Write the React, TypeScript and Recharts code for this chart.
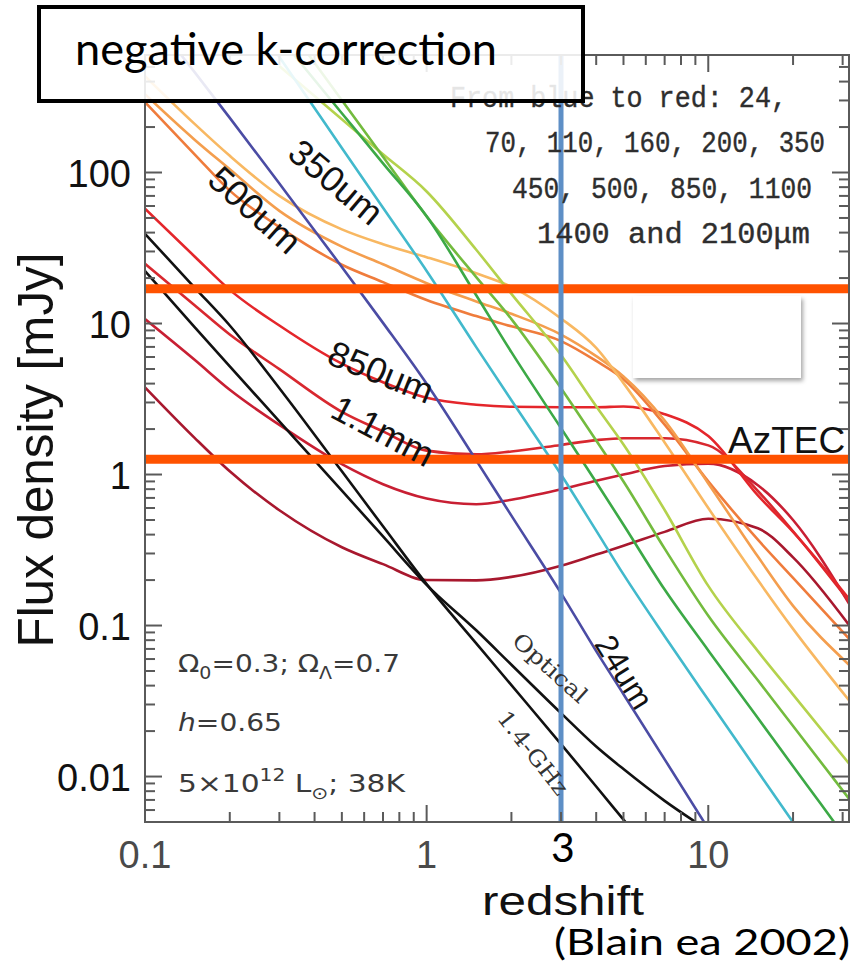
import React from 'react';
import { LineChart, Line, XAxis, YAxis, ReferenceLine } from 'recharts';

// plot frame in page pixels
const W = 865;
const H = 971;
const PLOT = { left: 145, top: 55, right: 849, bottom: 822 };
const FRAME = '#5a5a5a';
const X_AXIS_H = 40;
const Y_AXIS_W = 60;

// redshift grid shared by most curves
const zGrid = [0.1, 0.15, 0.2, 0.3, 0.5, 0.7, 1, 1.5, 2, 3, 4, 5, 7, 10, 15, 20, 31.6];
const zFrom03 = [0.3, 0.5, 0.7, 1, 1.5, 2, 3, 4, 5, 7, 10, 15, 20, 31.6];

// flux density [mJy] per band
const z24 = [0.1, 0.15, 0.2, 0.3, 0.5, 0.7, 1, 1.5, 2, 3, 4, 5, 7, 10];
const s24 = [1200, 462, 230, 84.5, 23.7, 10.1, 3.99, 1.24, 0.534, 0.164, 0.0677, 0.0351, 0.013, 0.00451];

const z70 = [0.2, 0.3, 0.5, 0.7, 1, 1.5, 2, 3, 4, 5, 7, 10, 15, 20, 25];
const s70 = [1700, 581, 145.5, 58.5, 22.3, 6.98, 3.1, 1.0, 0.425, 0.218, 0.085, 0.0322, 0.0108, 0.00498, 0.00274];

const z110 = [0.3, 0.5, 0.7, 1, 1.5, 2, 3, 4, 5, 7, 10, 15, 20, 25, 31.6];
const s110 = [789, 247, 115, 51.3, 15.4, 6.46, 2.03, 0.89, 0.465, 0.173, 0.0684, 0.0244, 0.0117, 0.00665, 0.00366];

const s160 = [1110, 301, 127, 51.2, 20.3, 10.7, 3.73, 1.68, 0.899, 0.323, 0.116, 0.0434, 0.0216, 0.00714];
const s200 = [506, 225, 132, 74.9, 30.8, 15.7, 6.18, 2.83, 1.58, 0.582, 0.183, 0.0677, 0.0349, 0.0122];

const s350 = [435, 210, 129, 70, 42, 33.5, 27.5, 21.5, 17.5, 10.8, 6.9, 4.03, 1.63, 0.6, 0.2, 0.095, 0.032];
const s450 = [330, 165, 105, 55.7, 32.3, 24.7, 18.5, 14.0, 11.6, 8.45, 6.08, 4.46, 2.28, 0.873, 0.286, 0.135, 0.055];
const s500 = [292, 132, 75.9, 43.5, 24.5, 18.8, 14.3, 11.2, 9.58, 7.65, 5.65, 4.28, 2.14, 0.9, 0.37, 0.207, 0.0818];
const s850 = [57.6, 27.8, 16.7, 9.7, 5.42, 4.08, 3.22, 2.9, 2.81, 2.79, 2.79, 2.82, 2.51, 1.8, 0.727, 0.417, 0.15];
const s1100 = [24.9, 13.2, 8.45, 4.99, 2.6, 1.93, 1.44, 1.36, 1.42, 1.57, 1.69, 1.74, 1.74, 1.56, 0.778, 0.421, 0.145];
const s1400 = [10.7, 5.75, 3.64, 2.13, 1.17, 0.862, 0.693, 0.636, 0.681, 0.798, 0.91, 1.0, 1.14, 1.18, 0.85, 0.5, 0.14];
const s2100 = [3.78, 1.75, 1.05, 0.58, 0.33, 0.255, 0.2, 0.199, 0.21, 0.249, 0.295, 0.337, 0.417, 0.51, 0.441, 0.283, 0.101];

const zOpt = [0.1, 0.15, 0.2, 0.3, 0.5, 0.7, 1, 1.5, 2, 3, 4, 5, 7, 10];
const sOpt = [22.3, 9.48, 5.2, 2.25, 0.783, 0.389, 0.186, 0.093, 0.055, 0.0263, 0.0158, 0.0112, 0.0069, 0.0044];
const zRadio = [0.1, 0.15, 0.2, 0.3, 0.5, 0.7, 1, 1.5, 2, 3, 4, 5, 6];
const sRadio = [39.3, 17.3, 9.7, 3.73, 1.05, 0.454, 0.188, 0.0762, 0.0403, 0.0164, 0.00859, 0.00518, 0.00343];

// survey limits and marked redshift
const limitUpper = 17;
const limitAztec = 1.26;
const zMark = 3;

const xTicks = [0.1, 0.2, 0.3, 0.4, 0.5, 0.6, 0.7, 0.8, 0.9, 1, 2, 3, 4, 5, 6, 7, 8, 9, 10, 20, 30];
const xMajor = [0.1, 1, 10];
const yTicks = [
  0.006, 0.007, 0.008, 0.009, 0.01, 0.02, 0.03, 0.04, 0.05, 0.06, 0.07, 0.08, 0.09,
  0.1, 0.2, 0.3, 0.4, 0.5, 0.6, 0.7, 0.8, 0.9, 1, 2, 3, 4, 5, 6, 7, 8, 9,
  10, 20, 30, 40, 50, 60, 70, 80, 90, 100, 200, 300, 400, 500,
];
const yMajor = [0.01, 0.1, 1, 10, 100];

const zip = (z: number[], s: number[]) => z.map((v, i) => ({ z: v, S: s[i] }));

const series = [
  { key: 'r2100', color: '#a8182e', data: zip(zGrid, s2100) },
  { key: 'r1400', color: '#c81f33', data: zip(zGrid, s1400) },
  { key: 'r1100', color: '#d8282f', data: zip(zGrid, s1100) },
  { key: 'r850', color: '#e4262b', data: zip(zGrid, s850) },
  { key: 'o500', color: '#ef7c3c', data: zip(zGrid, s500) },
  { key: 'o450', color: '#f49e4e', data: zip(zGrid, s450) },
  { key: 'o350', color: '#f8b862', data: zip(zGrid, s350) },
  { key: 'g200', color: '#b4d24c', data: zip(zFrom03, s200) },
  { key: 'g160', color: '#73bb3e', data: zip(zFrom03, s160) },
  { key: 'g110', color: '#3ca946', data: zip(z110, s110) },
  { key: 'c70', color: '#42b9cc', data: zip(z70, s70) },
  { key: 'b24', color: '#4b4ca4', data: zip(z24, s24) },
  { key: 'opt', color: '#111111', data: zip(zOpt, sOpt) },
  { key: 'radio', color: '#111111', data: zip(zRadio, sRadio) },
];

// inward ticks on bottom and top edges, labels only on decades
const XTick = (props: any) => {
  const { x, payload } = props;
  const v = payload.value;
  const major = xMajor.includes(v);
  const len = major ? 17 : 10;
  return (
    <g>
      <line x1={x} x2={x} y1={PLOT.bottom} y2={PLOT.bottom - len} stroke={FRAME} strokeWidth={2} />
      <line x1={x} x2={x} y1={PLOT.top} y2={PLOT.top + len} stroke={FRAME} strokeWidth={2} />
      {major && (
        <text x={x} y={868} textAnchor="middle" fontFamily="Liberation Sans, Arial" fontSize={38} fill="#4a4a4a">
          {String(v)}
        </text>
      )}
    </g>
  );
};

// inward ticks on left and right edges
const YTick = (props: any) => {
  const { y, payload } = props;
  const v = payload.value;
  const major = yMajor.includes(v);
  const len = major ? 17 : 10;
  return (
    <g>
      <line x1={PLOT.left} x2={PLOT.left + len} y1={y} y2={y} stroke={FRAME} strokeWidth={2} />
      <line x1={PLOT.right} x2={PLOT.right - len} y1={y} y2={y} stroke={FRAME} strokeWidth={2} />
      {major && (
        <text x={131} y={y + 14} textAnchor="end" fontFamily="Liberation Sans, Arial" fontSize={38} fill="#111">
          {String(v)}
        </text>
      )}
    </g>
  );
};

const curveLabel = { fontFamily: 'Liberation Sans, Arial', fill: '#111' } as const;
const hershey = { fontFamily: 'DejaVu Sans', fill: '#3a3a3a', lengthAdjust: 'spacingAndGlyphs' } as const;
const mono = { fontFamily: 'Liberation Mono', fill: '#2e2e2e', stroke: '#2e2e2e', strokeWidth: 0.4 } as const;

export default function App() {
  return (
    <div style={{ position: 'absolute', left: 0, top: 0, width: W, height: H, background: '#fff' }}>
      <LineChart
        width={W}
        height={H}
        margin={{
          left: PLOT.left - Y_AXIS_W,
          top: PLOT.top,
          right: W - PLOT.right,
          bottom: H - PLOT.bottom - X_AXIS_H,
        }}
      >
        <XAxis
          type="number"
          dataKey="z"
          scale="log"
          domain={[0.1, 31.6]}
          allowDataOverflow
          ticks={xTicks}
          interval={0}
          tick={XTick}
          tickLine={false}
          axisLine={false}
          height={X_AXIS_H}
        />
        <YAxis
          type="number"
          dataKey="S"
          scale="log"
          domain={[0.005, 600]}
          allowDataOverflow
          ticks={yTicks}
          interval={0}
          tick={YTick}
          tickLine={false}
          axisLine={false}
          width={Y_AXIS_W}
        />
        {series.map((s) => (
          <Line
            key={s.key}
            data={s.data}
            dataKey="S"
            type="monotone"
            stroke={s.color}
            strokeWidth={2.6}
            dot={false}
            isAnimationActive={false}
          />
        ))}
        <ReferenceLine y={limitUpper} stroke="#ff5200" strokeWidth={9} />
        <ReferenceLine y={limitAztec} stroke="#ff5200" strokeWidth={9} />
        <ReferenceLine x={zMark} stroke="#5e8fc6" strokeWidth={5} />
      </LineChart>

      <svg width={W} height={H} style={{ position: 'absolute', left: 0, top: 0, pointerEvents: 'none' }}>
        <defs>
          <filter id="shade" x="-10%" y="-10%" width="130%" height="140%">
            <feDropShadow dx="2" dy="3" stdDeviation="2" floodColor="#000" floodOpacity="0.35" />
          </filter>
        </defs>
        <rect x={PLOT.left} y={PLOT.top} width={PLOT.right - PLOT.left} height={PLOT.bottom - PLOT.top} fill="none" stroke={FRAME} strokeWidth={2} />

        {/* legend of bands */}
        <text x={450} y={107} fontSize={30} textLength={337} lengthAdjust="spacingAndGlyphs" {...mono}>From blue to red: 24,</text>
        <text x={485} y={152} fontSize={30} textLength={340} lengthAdjust="spacingAndGlyphs" {...mono}>70, 110, 160, 200, 350</text>
        <text x={512} y={198} fontSize={30} textLength={300} lengthAdjust="spacingAndGlyphs" {...mono}>450, 500, 850, 1100</text>
        <text x={537} y={243} fontSize={30} textLength={273} lengthAdjust="spacingAndGlyphs" {...mono}>1400 and 2100μm</text>

        {/* blank patch */}
        <rect x={633} y={296} width={168} height={82} fill="#fff" filter="url(#shade)" />

        {/* curve labels */}
        <text transform="translate(336,182) rotate(40)" textAnchor="middle" dominantBaseline="central" fontSize={36} {...curveLabel}>350um</text>
        <text transform="translate(255,210) rotate(42)" textAnchor="middle" dominantBaseline="central" fontSize={36} {...curveLabel}>500um</text>
        <text transform="translate(381,372) rotate(22)" textAnchor="middle" dominantBaseline="central" fontSize={36} {...curveLabel}>850um</text>
        <text transform="translate(383,431) rotate(28)" textAnchor="middle" dominantBaseline="central" fontSize={36} {...curveLabel}>1.1mm</text>
        <text transform="translate(624,672) rotate(58)" textAnchor="middle" dominantBaseline="central" fontSize={32} {...curveLabel}>24um</text>
        <text transform="translate(550,668) rotate(42)" textAnchor="middle" dominantBaseline="central" fontSize={22} textLength={92} lengthAdjust="spacingAndGlyphs" fontFamily="DejaVu Serif" fill="#333">Optical</text>
        <text transform="translate(533,753) rotate(52)" textAnchor="middle" dominantBaseline="central" fontSize={22} textLength={100} lengthAdjust="spacingAndGlyphs" fontFamily="DejaVu Serif" fill="#333">1.4-GHz</text>
        <text x={728} y={453} fontSize={37} {...curveLabel}>AzTEC</text>

        {/* model parameters */}
        <text x={178} y={672} fontSize={25} textLength={222} {...hershey}>
          Ω<tspan dy={7} fontSize={17}>0</tspan><tspan dy={-7}>=0.3; Ω</tspan><tspan dy={7} fontSize={17}>Λ</tspan><tspan dy={-7}>=0.7</tspan>
        </text>
        <text x={178} y={731} fontSize={25} textLength={104} {...hershey}>
          <tspan fontStyle="italic">h</tspan>=0.65
        </text>
        <text x={178} y={792} fontSize={25} textLength={227} {...hershey}>
          5×10<tspan dy={-11} fontSize={17}>12</tspan><tspan dy={11}> L</tspan><tspan dy={7} fontSize={17}>⊙</tspan><tspan dy={-7}>; 38K</tspan>
        </text>

        {/* axis titles */}
        <text transform="translate(53,450) rotate(-90)" textAnchor="middle" fontSize={50} textLength={395} lengthAdjust="spacingAndGlyphs" fontFamily="Liberation Sans, Arial" fill="#111">Flux density [mJy]</text>
        <text x={563} y={915} textAnchor="middle" fontSize={41} textLength={162} lengthAdjust="spacingAndGlyphs" fontFamily="Liberation Sans, Arial" fill="#111">redshift</text>
        <text x={563} y={862} textAnchor="middle" fontSize={41} fontFamily="Lato" fill="#000">3</text>
        <text x={554} y={955} fontSize={37} textLength={296} lengthAdjust="spacingAndGlyphs" fontFamily="Lato" fill="#000">(Blain ea 2002)</text>

        {/* title box */}
        <rect x={39} y={7} width={544} height={94} fill="#fff" fillOpacity={0.88} stroke="#000" strokeWidth={4} />
        <text x={75} y={65} fontSize={44} textLength={422} lengthAdjust="spacingAndGlyphs" fontFamily="Lato" fill="#000">negative k-correction</text>
      </svg>
    </div>
  );
}
